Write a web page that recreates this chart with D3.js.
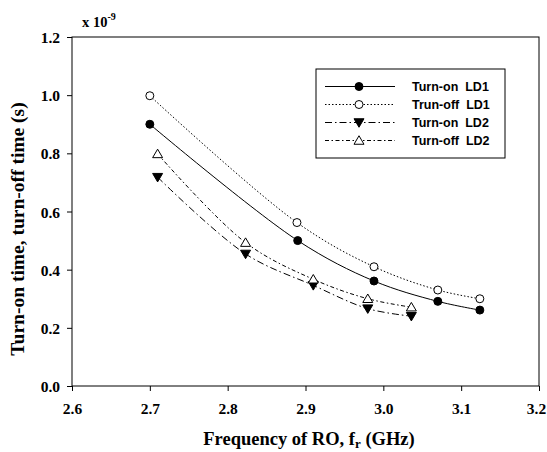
<!DOCTYPE html>
<html><head><meta charset="utf-8">
<script src="https://cdn.jsdelivr.net/npm/d3@7"></script>
<style>
body{margin:0;background:#fff}svg{display:block}
.serif{font-family:"Liberation Serif","Times New Roman",serif;font-weight:bold;fill:#000}
.sans{font-family:"Liberation Sans",Arial,sans-serif;font-weight:bold;fill:#000;white-space:pre}
</style>
</head><body><svg id="c" width="547" height="452"></svg>
<script>
const xTicks = [2.6, 2.7, 2.8, 2.9, 3.0, 3.1, 3.2];
const yTicks = [0.0, 0.2, 0.4, 0.6, 0.8, 1.0, 1.2];
const seriesNames = ["Turn-on  LD1", "Trun-off  LD1", "Turn-on  LD2", "Turn-off  LD2"];
const onLD1_x = [2.700, 2.890, 2.988, 3.070, 3.124];
const onLD1_y = [0.900, 0.500, 0.361, 0.291, 0.261];
const offLD1_x = [2.700, 2.889, 2.988, 3.070, 3.124];
const offLD1_y = [0.998, 0.562, 0.410, 0.330, 0.300];
const onLD2_x = [2.710, 2.823, 2.910, 2.980, 3.036];
const onLD2_y = [0.718, 0.454, 0.346, 0.266, 0.240];
const offLD2_x = [2.710, 2.823, 2.910, 2.980, 3.036];
const offLD2_y = [0.798, 0.493, 0.367, 0.300, 0.271];

const svg = d3.select("#c");
const L = 72, R = 539, T = 37, B = 386;
const x = d3.scaleLinear().domain([2.6, 3.2]).range([L, R]);
const y = d3.scaleLinear().domain([0, 1.2]).range([B, T]);

const series = [
  {name: seriesNames[0], xs: onLD1_x, ys: onLD1_y, dash: null, marker: "circle", fill: "#000"},
  {name: seriesNames[1], xs: offLD1_x, ys: offLD1_y, dash: "1.5,2", marker: "circle", fill: "#fff"},
  {name: seriesNames[2], xs: onLD2_x, ys: onLD2_y, dash: "7,3,1.5,3", marker: "down", fill: "#000"},
  {name: seriesNames[3], xs: offLD2_x, ys: offLD2_y, dash: "4,2.5,1.5,2.5", marker: "up", fill: "#fff"}
];

svg.append("rect").attr("x", L).attr("y", T).attr("width", R - L).attr("height", B - T)
  .attr("fill", "none").attr("stroke", "#000").attr("stroke-width", 1);

const xAxis = d3.axisBottom(x).tickValues(xTicks).tickSize(5).tickFormat(d3.format(".1f"));
const gx = svg.append("g").attr("transform", `translate(0,${B})`).call(xAxis);
gx.select(".domain").remove();
gx.selectAll("text").attr("dy", null).attr("y", 28);
gx.selectAll(".tick").filter(d => d === 3.2).select("text").attr("x", -3);
const yAxis = d3.axisLeft(y).tickValues(yTicks).tickSize(5).tickFormat(d3.format(".1f"));
const gy = svg.append("g").attr("transform", `translate(${L},0)`).call(yAxis);
gy.select(".domain").remove();
gy.selectAll("text").attr("x", -12).attr("dy", "0.36em");
svg.selectAll("g").attr("font-family", null).attr("font-size", null);
svg.selectAll(".tick text").attr("class", "serif").style("font-size", "15.5px");
svg.selectAll(".tick line").attr("stroke", "#000");

const mult = svg.append("text").attr("class", "serif").attr("x", 82).attr("y", 27).style("font-size", "14.5px");
mult.append("tspan").text("x 10");
mult.append("tspan").attr("dy", -7).style("font-size", "10px").text("-9");

const xt = svg.append("text").attr("class", "serif").attr("x", 309).attr("y", 445)
  .attr("text-anchor", "middle").style("font-size", "18.5px");
xt.append("tspan").text("Frequency of RO, f");
xt.append("tspan").attr("dy", 3).style("font-size", "13px").text("r");
xt.append("tspan").attr("dy", -3).text(" (GHz)");
svg.append("text").attr("class", "serif").attr("transform", `translate(24,229) rotate(-90)`)
  .attr("text-anchor", "middle").style("font-size", "19.5px")
  .text("Turn-on time, turn-off time (s)");

function drawMarker(g, type, fill, cx, cy) {
  if (type === "circle") {
    g.append("circle").attr("cx", cx).attr("cy", cy).attr("r", 4)
      .attr("fill", fill).attr("stroke", "#000").attr("stroke-width", 1);
  } else {
    const s = 5;
    const pts = type === "down"
      ? [[cx - s, cy - s * 0.75], [cx + s, cy - s * 0.75], [cx, cy + s * 0.95]]
      : [[cx - s, cy + s * 0.75], [cx + s, cy + s * 0.75], [cx, cy - s * 0.95]];
    g.append("polygon").attr("points", pts.map(p => p.join(",")).join(" "))
      .attr("fill", fill).attr("stroke", "#000").attr("stroke-width", 1);
  }
}

const line = d3.line().curve(d3.curveCatmullRom.alpha(0.5));
series.forEach(s => {
  const pts = s.xs.map((v, i) => [x(v), y(s.ys[i])]);
  svg.append("path").attr("d", line(pts)).attr("fill", "none").attr("stroke", "#000")
    .attr("stroke-width", 1).attr("stroke-dasharray", s.dash);
  const g = svg.append("g");
  pts.forEach(p => drawMarker(g, s.marker, s.fill, p[0], p[1]));
});

svg.append("rect").attr("x", 316).attr("y", 69).attr("width", 189).attr("height", 89)
  .attr("fill", "#fff").attr("stroke", "#000").attr("stroke-width", 1);
const legY = [86.5, 104.5, 122.5, 140.5];
series.forEach((s, i) => {
  const g = svg.append("g");
  g.append("line").attr("x1", 325).attr("x2", 395).attr("y1", legY[i]).attr("y2", legY[i])
    .attr("stroke", "#000").attr("stroke-width", 1).attr("stroke-dasharray", s.dash);
  drawMarker(g, s.marker, s.fill, 359, legY[i]);
  g.append("text").attr("class", "sans").attr("x", 412).attr("y", legY[i] + 4.5)
    .style("font-size", "12.5px").text(s.name);
});
</script></body></html>
